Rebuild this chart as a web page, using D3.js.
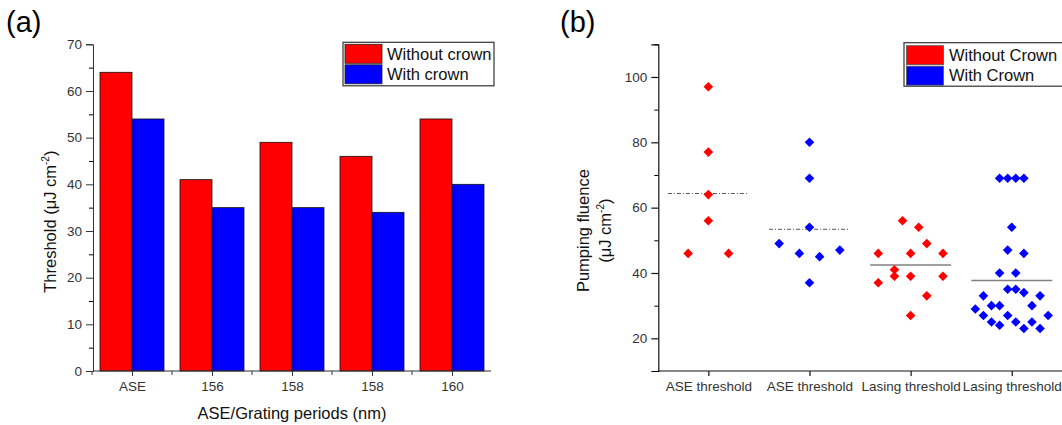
<!DOCTYPE html>
<html>
<head>
<meta charset="utf-8">
<script src="https://cdn.jsdelivr.net/npm/d3@7"></script>
<style>
  html, body { margin: 0; padding: 0; background: #fff; }
  svg { display: block; }
  text { font-family: "Liberation Sans", Arial, sans-serif; }
</style>
</head>
<body>
<svg id="fig" width="1062" height="425"></svg>
<script>
// ---- Panel (a): threshold bars ----
const barCategories = ["ASE", "156", "158", "158", "160"];
const thresholdWithout = [64, 41, 49, 46, 54];
const thresholdWith = [54, 35, 35, 34, 40];
const barSeries = ["Without crown", "With crown"];
const barTicks = [0, 10, 20, 30, 40, 50, 60, 70];

// ---- Panel (b): individual pumping-fluence measurements ----
const groupLabels = ["ASE threshold", "ASE threshold", "Lasing threshold", "Lasing threshold"];
const scatterSeries = ["Without Crown", "With Crown"];
const groupSeriesIndex = [0, 1, 0, 1];

const aseWithoutValues = [97, 77, 64, 56, 46, 46];
const aseWithoutSpread = [0, 0, 0, 0, -0.2, 0.2];

const aseWithValues = [80, 69, 54, 37, 49, 46, 45, 47];
const aseWithSpread = [0, 0, 0, 0, -0.3, -0.1, 0.1, 0.3];

const lasingWithoutValues = [46, 37, 41, 39, 56, 46, 39, 27, 54, 49, 33, 46, 39];
const lasingWithoutSpread = [-0.32, -0.32, -0.16, -0.16, -0.08, 0, 0, 0, 0.08, 0.16, 0.16, 0.32, 0.32];

const lasingWithValues = [69, 69, 69, 69, 54, 47, 46, 40, 40, 35, 35, 34, 33, 33,
  30, 30, 30, 29, 27, 27, 27, 25, 25, 25, 24, 23, 23];
const lasingWithSpread = [-0.12, -0.04, 0.04, 0.12, 0, -0.04, 0.12, -0.12, 0.04, -0.04, 0.04, 0.12, -0.28, 0.28,
  -0.2, -0.12, 0.2, -0.36, -0.28, -0.04, 0.36, -0.2, 0.04, 0.2, -0.12, 0.12, 0.28];

const scatterTicks = [20, 40, 60, 80, 100];
const scatterMinorTicks = [10, 30, 50, 70, 90, 110];

const RED = "#ff0000", BLUE = "#0000ff";
const seriesColors = [RED, BLUE];

const svg = d3.select("#fig");
svg.append("rect").attr("width", 1062).attr("height", 425).attr("fill", "#fff");

// =============== Panel (a) ===============
const A = { left: 93, right: 491, top: 44.3, bottom: 371 };
const ga = svg.append("g");

const xa = d3.scaleBand().domain(d3.range(barCategories.length))
  .range([92, 492]).paddingInner(0.2).paddingOuter(0.1);
const xaSub = d3.scaleBand().domain([0, 1]).range([0, xa.bandwidth()]);
const ya = d3.scaleLinear().domain([0, 70]).range([A.bottom, A.top]);

const barRows = barCategories.map((c, i) => ({ i, values: [thresholdWithout[i], thresholdWith[i]] }));
ga.selectAll("g.grp").data(barRows).join("g")
  .attr("transform", d => `translate(${xa(d.i)},0)`)
  .selectAll("rect").data(d => d.values.map((v, s) => ({ v, s }))).join("rect")
  .attr("x", d => xaSub(d.s))
  .attr("width", xaSub.bandwidth())
  .attr("y", d => ya(d.v))
  .attr("height", d => ya(0) - ya(d.v))
  .attr("fill", d => seriesColors[d.s])
  .attr("stroke", "#111").attr("stroke-width", 0.8);

// y axis (major + minor)
const yAxisA = ga.append("g").attr("transform", `translate(${A.left},0)`)
  .call(d3.axisLeft(ya).tickValues(barTicks).tickSize(7).tickPadding(4).tickFormat(d3.format("d")));
ga.append("g").attr("transform", `translate(${A.left},0)`)
  .call(d3.axisLeft(ya).tickValues(d3.range(5, 70, 10)).tickSize(4).tickFormat(""))
  .call(g => g.select(".domain").remove());

// x axis: labels at group centres, small ticks between groups
const xCentre = d3.scalePoint().domain(d3.range(barCategories.length))
  .range([xa(0) + xa.bandwidth() / 2, xa(barCategories.length - 1) + xa.bandwidth() / 2]);
const xAxisA = ga.append("g").attr("transform", `translate(0,${A.bottom})`)
  .call(d3.axisBottom(xCentre).tickSize(5).tickPadding(5).tickFormat(i => barCategories[i]));
xAxisA.select(".domain").attr("d", `M${A.left},0H${A.right}`);
const boundaries = d3.range(barCategories.length + 1).map(i => xa.range()[0] + i * xa.step());
ga.append("g").attr("transform", `translate(0,${A.bottom})`)
  .selectAll("line").data(boundaries.filter(b => b < A.right)).join("line")
  .attr("x1", d => d).attr("x2", d => d).attr("y1", 0).attr("y2", 4)
  .attr("stroke", "#333");

[yAxisA, xAxisA].forEach(ax => {
  ax.selectAll("text").attr("font-size", 13.5).attr("fill", "#333")
    .attr("font-family", '"Liberation Sans", Arial, sans-serif');
  ax.selectAll("line, path").attr("stroke", "#333");
});

// titles
ga.append("text").attr("x", (A.left + A.right) / 2).attr("y", 419)
  .attr("text-anchor", "middle").attr("font-size", 16.5).attr("fill", "#111")
  .text("ASE/Grating periods (nm)");
const yTitleA = ga.append("text")
  .attr("transform", `translate(56,${(A.top + A.bottom) / 2 + 14}) rotate(-90)`)
  .attr("text-anchor", "middle").attr("font-size", 16.5).attr("fill", "#111");
yTitleA.append("tspan").text("Threshold (μJ cm");
yTitleA.append("tspan").attr("font-size", 10).attr("dy", -7).text("-2");
yTitleA.append("tspan").attr("dy", 7).text(")");

// legend
const legA = ga.append("g").attr("transform", "translate(343,42.3)");
legA.append("rect").attr("width", 151).attr("height", 43.5)
  .attr("fill", "#fff").attr("stroke", "#333").attr("stroke-width", 1.2);
barSeries.forEach((name, s) => {
  legA.append("rect").attr("x", 2).attr("y", 2 + s * 20.5).attr("width", 37).attr("height", 19)
    .attr("fill", seriesColors[s]).attr("stroke", "#222").attr("stroke-width", 0.8);
  legA.append("text").attr("x", 44).attr("y", 17.5 + s * 20.5)
    .attr("font-size", 16.5).attr("fill", "#111").text(name);
});

ga.append("text").attr("x", 6).attr("y", 32)
  .attr("font-family", '"Open Sans", sans-serif').attr("font-size", 29).text("(a)");

// =============== Panel (b) ===============
const B = { left: 658.3, right: 1062.5, top: 44.3, bottom: 371 };
const gb = svg.append("g");

const xb = d3.scaleLinear().domain([0.5, 4.5]).range([657.8, 1062.3]);
const yb = d3.scaleLinear().domain([10, 110]).range([B.bottom, B.top]);

const groups = [
  { values: aseWithoutValues, spread: aseWithoutSpread },
  { values: aseWithValues, spread: aseWithSpread },
  { values: lasingWithoutValues, spread: lasingWithoutSpread },
  { values: lasingWithValues, spread: lasingWithSpread }
].map((g, k) => ({ ...g, k, cat: k + 1, series: groupSeriesIndex[k] }));

// mean of each group as a horizontal bar
const meanStyles = [
  { dash: "4 2 1 2", stroke: "#555", width: 1 },
  { dash: "4 2 1 2", stroke: "#555", width: 1 },
  { dash: null, stroke: "#808080", width: 1.6 },
  { dash: null, stroke: "#808080", width: 1.6 }
];
gb.selectAll("line.mean").data(groups).join("line")
  .attr("class", "mean")
  .attr("x1", d => xb(d.cat - 0.4)).attr("x2", d => xb(d.cat + 0.4))
  .attr("y1", d => yb(d3.mean(d.values))).attr("y2", d => yb(d3.mean(d.values)))
  .attr("stroke", d => meanStyles[d.k].stroke)
  .attr("stroke-width", d => meanStyles[d.k].width)
  .attr("stroke-dasharray", d => meanStyles[d.k].dash);

// diamonds
const diamond = d3.symbol().type(d3.symbolSquare).size(46);
const pts = groups.flatMap(g => g.values.map((v, j) => ({ v, x: g.cat + g.spread[j], s: g.series })));
gb.selectAll("path.pt").data(pts).join("path")
  .attr("class", "pt")
  .attr("d", diamond)
  .attr("transform", d => `translate(${xb(d.x)},${yb(d.v)}) rotate(45)`)
  .attr("fill", d => seriesColors[d.s]);

// axes
const yAxisB = gb.append("g").attr("transform", `translate(${B.left},0)`)
  .call(d3.axisLeft(yb).tickValues(scatterTicks).tickSize(7).tickPadding(4).tickFormat(d3.format("d")));
gb.append("g").attr("transform", `translate(${B.left},0)`)
  .call(d3.axisLeft(yb).tickValues(scatterMinorTicks).tickSize(4).tickFormat(""))
  .call(g => g.select(".domain").remove());
const xAxisB = gb.append("g").attr("transform", `translate(0,${B.bottom})`)
  .call(d3.axisBottom(xb).tickValues([1, 2, 3, 4]).tickSize(5).tickPadding(5).tickFormat(i => groupLabels[i - 1]));
xAxisB.select(".domain").attr("d", `M${B.left},0H${B.right}`);
[yAxisB, xAxisB].forEach(ax => {
  ax.selectAll("text").attr("font-size", 13.5).attr("fill", "#333")
    .attr("font-family", '"Liberation Sans", Arial, sans-serif');
  ax.selectAll("line, path").attr("stroke", "#111").attr("stroke-width", 1.2);
});

// y title on two lines
const yTitleB = gb.append("g").attr("transform", `translate(0,${(B.top + B.bottom) / 2 + 23}) rotate(-90)`);
yTitleB.append("text").attr("x", 0).attr("y", 589).attr("text-anchor", "middle")
  .attr("font-size", 16.5).attr("fill", "#111").text("Pumping fluence");
const l2 = yTitleB.append("text").attr("x", 0).attr("y", 611).attr("text-anchor", "middle")
  .attr("font-size", 16.5).attr("fill", "#111");
l2.append("tspan").text("(μJ cm");
l2.append("tspan").attr("font-size", 10).attr("dy", -7).text("-2");
l2.append("tspan").attr("dy", 7).text(")");

// legend (runs past the right edge)
const legB = gb.append("g").attr("transform", "translate(904,42.7)");
legB.append("rect").attr("width", 170).attr("height", 43.5)
  .attr("fill", "#fff").attr("stroke", "#333").attr("stroke-width", 1.2);
scatterSeries.forEach((name, s) => {
  legB.append("rect").attr("x", 2.5).attr("y", 3 + s * 20.5).attr("width", 37).attr("height", 19)
    .attr("fill", seriesColors[s]).attr("stroke", "#555").attr("stroke-width", 0.8);
  legB.append("text").attr("x", 45).attr("y", 18 + s * 20.5)
    .attr("font-size", 16.5).attr("fill", "#111").text(name);
});

gb.append("text").attr("x", 560).attr("y", 32)
  .attr("font-family", '"Open Sans", sans-serif').attr("font-size", 29).text("(b)");
</script>
</body>
</html>
